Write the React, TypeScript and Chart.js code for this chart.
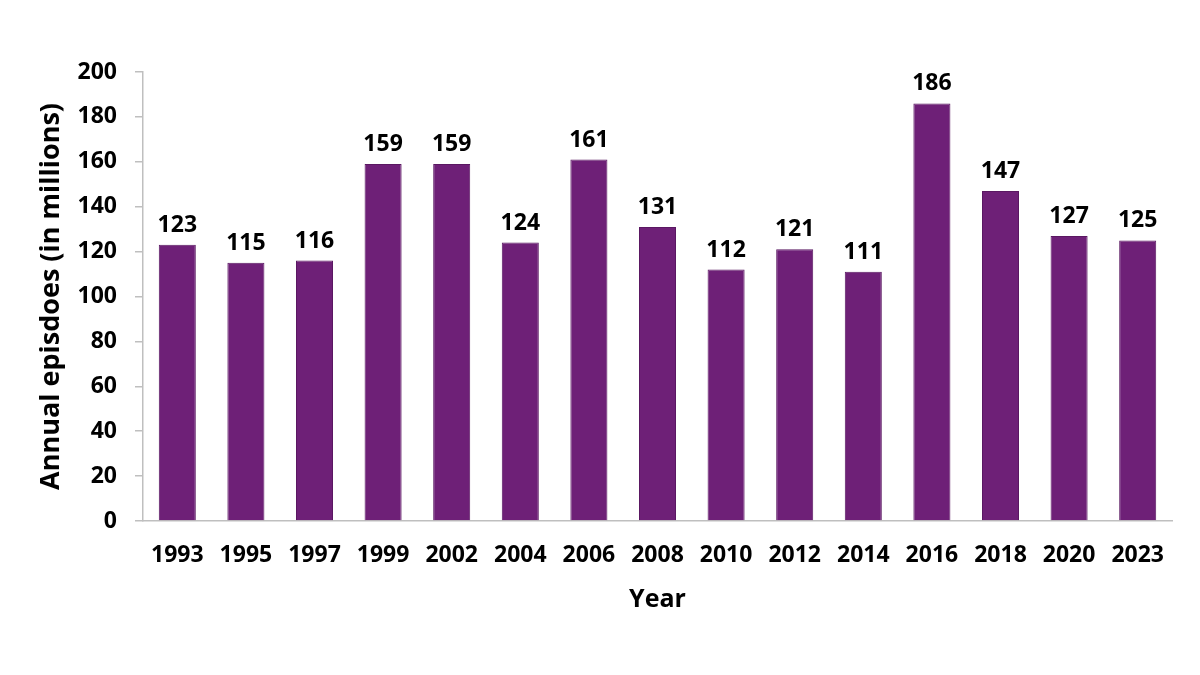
import React, { useEffect, useRef } from "react";
import { Chart, registerables } from "chart.js";

Chart.register(...registerables);

const years = ["1993", "1995", "1997", "1999", "2002", "2004", "2006", "2008", "2010", "2012", "2014", "2016", "2018", "2020", "2023"];
const episodes = [123, 115, 116, 159, 159, 124, 161, 131, 112, 121, 111, 186, 147, 127, 125];
const yTitle = "Annual episdoes (in millions)";
const xTitle = "Year";

const FONT = "'Open Sans', sans-serif";

const valueLabels = {
  id: "valueLabels",
  afterDatasetsDraw(chart: any) {
    const ctx = chart.ctx;
    const meta = chart.getDatasetMeta(0);
    ctx.save();
    ctx.font = `bold 23px ${FONT}`;
    ctx.fillStyle = "#000000";
    ctx.textAlign = "center";
    ctx.textBaseline = "alphabetic";
    meta.data.forEach((bar: any, i: number) => {
      ctx.fillText(String(episodes[i]), bar.x, bar.y - 13);
    });
    ctx.restore();
  },
};

export default function App() {
  const ref = useRef<HTMLCanvasElement | null>(null);
  useEffect(() => {
    if (!ref.current) return;
    const chart = new Chart(ref.current, {
      type: "bar",
      data: {
        labels: years,
        datasets: [
          {
            data: episodes,
            backgroundColor: "#6E2077",
            borderColor: "#5A1862",
            borderWidth: 1,
            barPercentage: 0.54,
            categoryPercentage: 1,
          },
        ],
      },
      options: {
        animation: false,
        responsive: false,
        layout: { padding: { left: 35, right: 28, top: 72, bottom: 60 } },
        plugins: { legend: { display: false }, tooltip: { enabled: false } },
        scales: {
          x: {
            grid: { display: true, drawOnChartArea: false, drawTicks: false },
            border: { display: true, color: "#BFBFBF", width: 1.5 },
            ticks: { color: "#000", font: { family: FONT, size: 23, weight: "bold" }, padding: 21, maxRotation: 0 },
            title: { display: true, text: xTitle, color: "#000", font: { family: FONT, size: 25, weight: "bold" }, padding: 0 },
            afterFit: (s: any) => {
              s.height = 675 - 521 - 60;
            },
          },
          y: {
            min: 0,
            max: 200,
            ticks: { stepSize: 20, color: "#000", font: { family: FONT, size: 23, weight: "bold" }, padding: 18 },
            grid: { display: true, drawOnChartArea: false, drawTicks: true, tickLength: 8, color: "#BFBFBF", lineWidth: 1.5 },
            border: { display: true, color: "#BFBFBF", width: 1.5 },
            title: { display: true, text: yTitle, color: "#000", font: { family: FONT, size: 27, weight: "bold" }, padding: 0 },
            afterFit: (s: any) => {
              s.width = 143 - 35;
            },
          },
        },
      },
      plugins: [valueLabels],
    });
    return () => chart.destroy();
  }, []);
  return (
    <div style={{ position: "fixed", left: 0, top: 0, width: 1200, height: 675, background: "#fff" }}>
      <canvas ref={ref} width={1200} height={675} style={{ width: 1200, height: 675 }} />
    </div>
  );
}
